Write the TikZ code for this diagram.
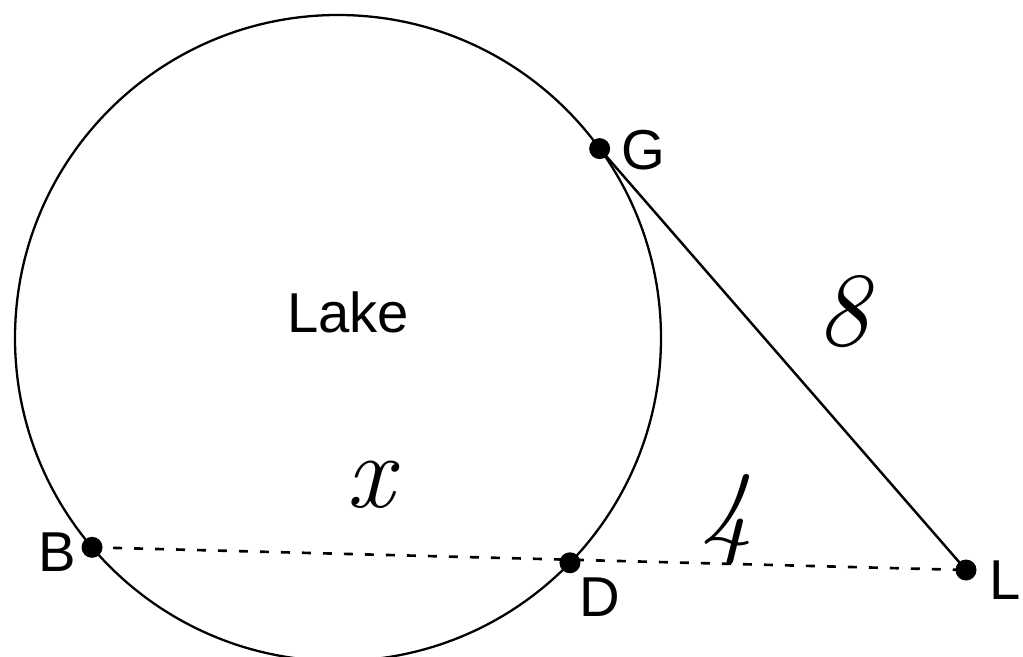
\documentclass[tikz,border=0pt]{standalone}
\usepackage{fontspec}
\setmainfont{Liberation Sans}
\newfontfamily\handfont{Latin Modern Roman}
\usetikzlibrary{calc}
\tikzset{
  pt/.style={circle,fill=black,inner sep=0pt,minimum size=4.2mm},
  lbl/.style={font=\fontsize{32}{36}\selectfont,inner sep=0pt},
  hand/.style={font=\handfont\itshape\fontsize{60}{64}\selectfont,inner sep=0pt},
  rim/.style={line width=1.3pt},
  chord/.style={line width=1.5pt,dash pattern=on 1.8mm off 2.4mm}
}
\begin{document}
\begin{tikzpicture}
\useasboundingbox (0,0) rectangle (20.46,-13.14);
\coordinate (O) at (6.76,-6.76);
\draw[rim] (O) circle (6.46);

\node[pt] (G) at ($(O)+(35.9:6.46)$) {};
\node[pt] (B) at ($(O)+(220.4:6.46)$) {};
\node[pt] (D) at ($(O)+(-44.1:6.46)$) {};
\node[pt] (L) at (19.32,-11.4) {};

\draw[rim,line width=1.4pt] (G.center) -- (L.center);
\draw[chord] (B.center) -- (L.center);

\node[lbl] at (12.86,-3.0) {G};
\node[lbl] at (1.14,-11.04) {B};
\node[lbl] at (12.0,-11.94) {D};
\node[lbl] at (20.1,-11.6) {L};
\node[lbl] (lake) at (6.96,-6.24) {Lake};

\node[hand] (x) at (7.4,-9.7) {x};
\node[hand] (four) at (14.54,-10.4) {4};
\node[hand] (eight) at (16.86,-6.24) {8};
\end{tikzpicture}
\end{document}
